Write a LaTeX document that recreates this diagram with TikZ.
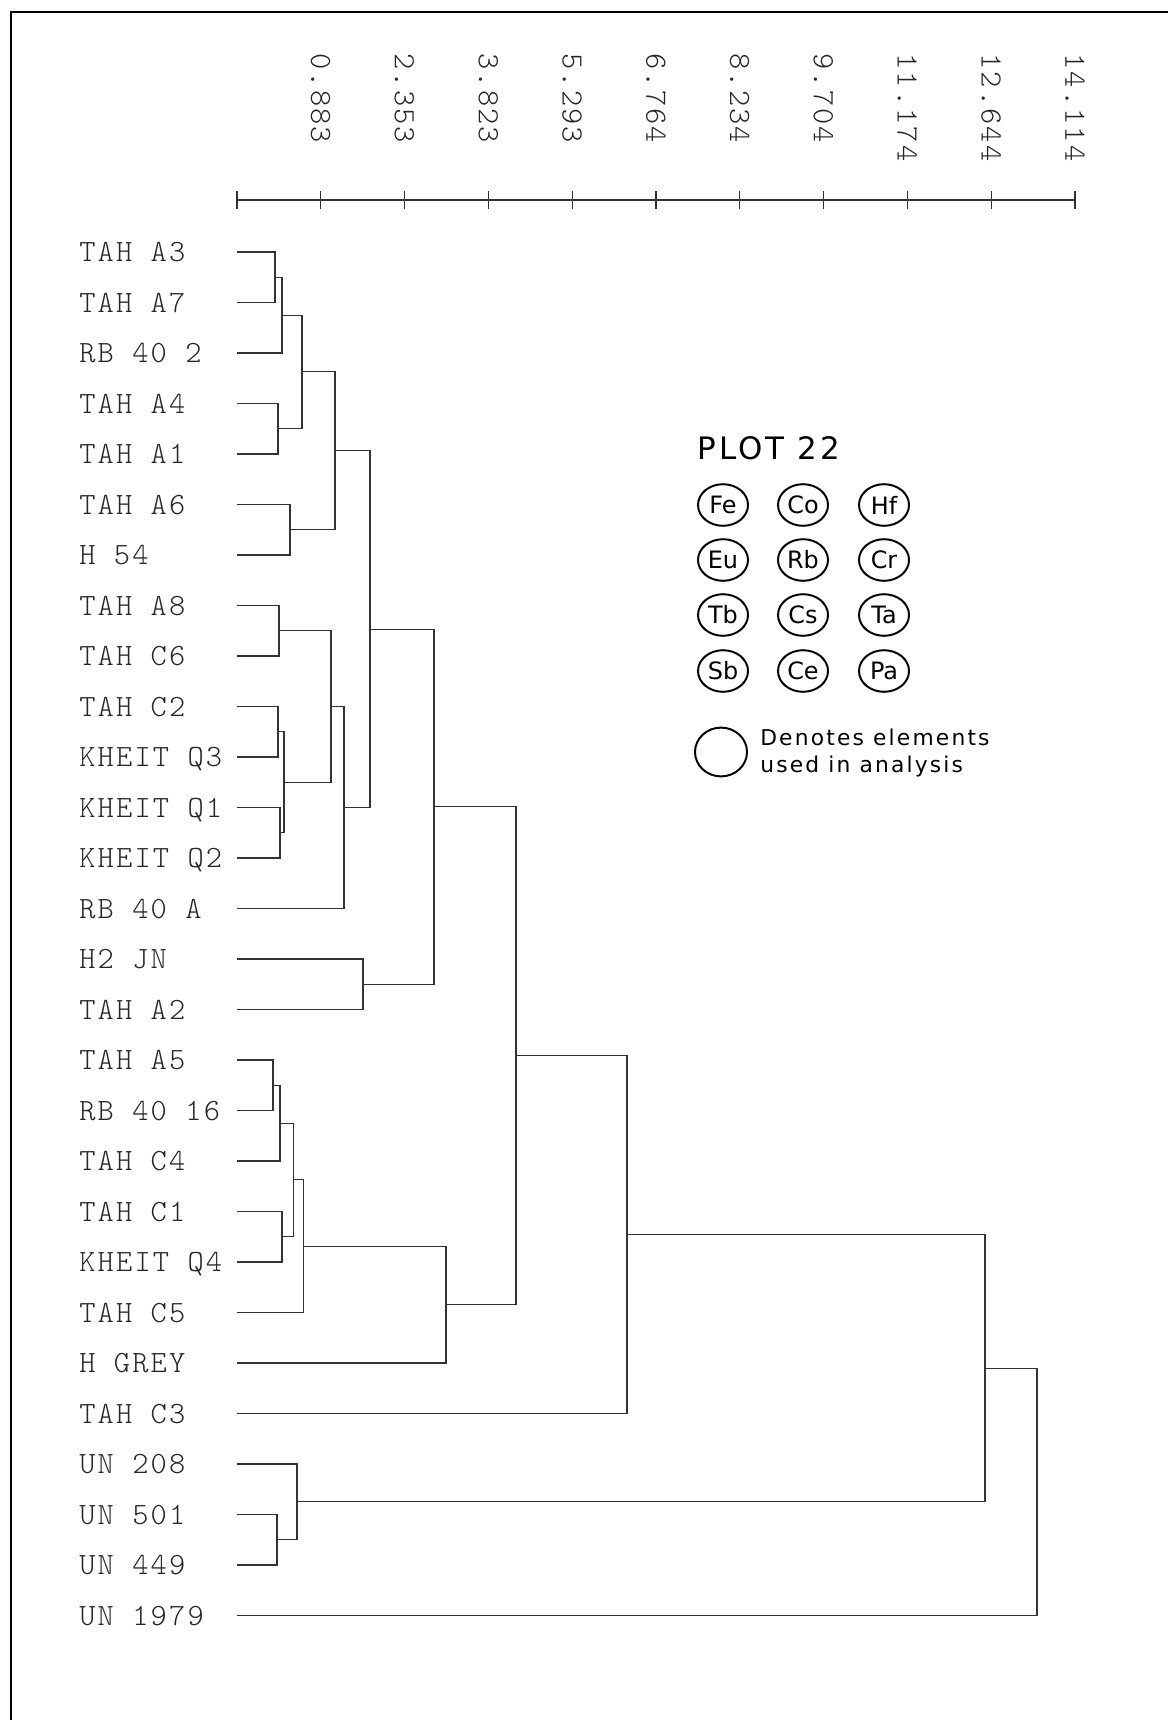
\documentclass[tikz,border=0pt]{standalone}
\usepackage{fontspec}
\usepackage{tikz}
\usetikzlibrary{shapes.geometric}
\newfontfamily\plotfont{lmmonolt10-regular.otf}[LetterSpace=7]
\newfontfamily\legfont{DejaVu Sans}[LetterSpace=10]
\newfontfamily\elemfont{DejaVu Sans}

\begin{document}
\begin{tikzpicture}[x=0.025cm,y=-0.025cm,
  tree/.style={black!80,line width=0.8pt},
  leaf/.style={anchor=west,inner sep=0pt,text depth=0pt,text=black!85,font=\plotfont\fontsize{22}{22}\selectfont},
  elem/.style={draw,ellipse,line width=1.4pt,inner sep=0pt,minimum width=1.25cm,minimum height=1.04cm,font=\elemfont\fontsize{17}{17}\selectfont}]
\useasboundingbox (0,0) rectangle (1168,1720);
\draw[line width=2pt] (11,1720) -- (11,12) -- (1168,12);

\draw[tree] (237,200) -- (1075,200);
\foreach \k in {0,...,10}
  \draw[tree] ({237+83.8*\k},191) -- ({237+83.8*\k},209);
\foreach \v [count=\k] in {0.883,2.353,3.823,5.293,6.764,8.234,9.704,11.174,12.644,14.114}
  \node[leaf,rotate=-90] (v\k) at ({237+83.8*\k},53) {\v};

\foreach \lab [count=\i] in {TAH A3,TAH A7,RB 40 2,TAH A4,TAH A1,TAH A6,H 54,TAH A8,TAH C6,TAH C2,KHEIT Q3,KHEIT Q1,KHEIT Q2,RB 40 A,H2 JN,TAH A2,TAH A5,RB 40 16,TAH C4,TAH C1,KHEIT Q4,TAH C5,H GREY,TAH C3,UN 208,UN 501,UN 449,UN 1979}{
  \node[leaf] (s\i) at (79,{252+50.5*(\i-1)}) {\lab};
  \coordinate (l\i) at (237,{252+50.5*(\i-1)});
}

\coordinate (a1) at (275,277.3);
\coordinate (a2) at (282,315.1);
\coordinate (a3) at (278,428.8);
\coordinate (a4) at (302,371.9);
\coordinate (a5) at (290,529.8);
\coordinate (a6) at (335,450.8);
\coordinate (b1) at (279,630.8);
\coordinate (b2) at (278,731.8);
\coordinate (b3) at (280,832.8);
\coordinate (b4) at (284,782.3);
\coordinate (b5) at (331,706.5);
\coordinate (b6) at (344,807.5);
\coordinate (c1) at (370,629.2);
\coordinate (d1) at (363,984.3);
\coordinate (c2) at (434,806.7);
\coordinate (e1) at (273,1085.3);
\coordinate (e2) at (280,1123.1);
\coordinate (e3) at (282,1236.8);
\coordinate (e4) at (293.5,1179.9);
\coordinate (e5) at (303.5,1246.2);
\coordinate (e6) at (446,1304.6);
\coordinate (f1) at (516,1055.6);
\coordinate (f2) at (627,1234.6);
\coordinate (g1) at (277,1539.8);
\coordinate (g2) at (297,1501.9);
\coordinate (h1) at (985,1368.2);
\coordinate (h2) at (1037,1491.9);

\draw[tree] (l1) -| (a1) |- (l2);
\draw[tree] (a1) -| (a2) |- (l3);
\draw[tree] (l4) -| (a3) |- (l5);
\draw[tree] (a2) -| (a4) |- (a3);
\draw[tree] (l6) -| (a5) |- (l7);
\draw[tree] (a4) -| (a6) |- (a5);
\draw[tree] (l8) -| (b1) |- (l9);
\draw[tree] (l10) -| (b2) |- (l11);
\draw[tree] (l12) -| (b3) |- (l13);
\draw[tree] (b2) -| (b4) |- (b3);
\draw[tree] (b1) -| (b5) |- (b4);
\draw[tree] (b5) -| (b6) |- (l14);
\draw[tree] (a6) -| (c1) |- (b6);
\draw[tree] (l15) -| (d1) |- (l16);
\draw[tree] (c1) -| (c2) |- (d1);
\draw[tree] (l17) -| (e1) |- (l18);
\draw[tree] (e1) -| (e2) |- (l19);
\draw[tree] (l20) -| (e3) |- (l21);
\draw[tree] (e2) -| (e4) |- (e3);
\draw[tree] (e4) -| (e5) |- (l22);
\draw[tree] (e5) -| (e6) |- (l23);
\draw[tree] (c2) -| (f1) |- (e6);
\draw[tree] (f1) -| (f2) |- (l24);
\draw[tree] (l26) -| (g1) |- (l27);
\draw[tree] (l25) -| (g2) |- (g1);
\draw[tree] (f2) -| (h1) |- (g2);
\draw[tree] (h1) -| (h2) |- (l28);

\node[anchor=west,inner sep=0pt,font=\legfont\fontsize{22}{22}\selectfont] (plot) at (697,448) {PLOT 22};
\node[elem] (fe) at (723,505) {Fe};
\node[elem] (co) at (803,505) {Co};
\node[elem] (hf) at (884,505) {Hf};
\node[elem] (eu) at (723,560) {Eu};
\node[elem] (rb) at (803,560) {Rb};
\node[elem] (cr) at (884,560) {Cr};
\node[elem] (tb) at (723,615) {Tb};
\node[elem] (cs) at (803,615) {Cs};
\node[elem] (ta) at (884,615) {Ta};
\node[elem] (sb) at (723,671) {Sb};
\node[elem] (ce) at (803,671) {Ce};
\node[elem] (pa) at (884,671) {Pa};
\node[elem,minimum width=1.3cm,minimum height=1.22cm] (key) at (721,752) {};
\node[anchor=west,inner sep=0pt,align=left,font=\legfont\fontsize{15.5}{18.8}\selectfont] (note) at (760,753) {Denotes elements\\used in analysis};
\end{tikzpicture}
\end{document}
